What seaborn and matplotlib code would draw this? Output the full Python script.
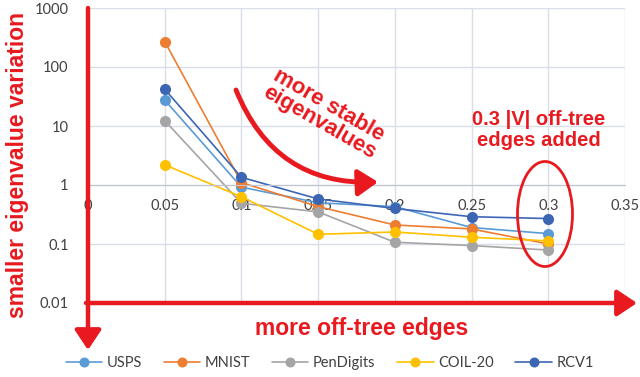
import numpy as np
import pandas as pd
import seaborn as sns
import matplotlib.pyplot as plt
from matplotlib.patches import Ellipse, FancyArrowPatch

# Fraction of |V| off-tree edges added
x_vals = [0.05, 0.1, 0.15, 0.2, 0.25, 0.3]

usps = [27.5, 0.92, 0.50, 0.43, 0.19, 0.15]
mnist = [270, 1.10, 0.43, 0.21, 0.18, 0.10]
pendigits = [12.3, 0.49, 0.35, 0.107, 0.094, 0.079]
coil20 = [2.2, 0.63, 0.146, 0.16, 0.13, 0.113]
rcv1 = [42, 1.35, 0.58, 0.40, 0.29, 0.27]

series = ['USPS', 'MNIST', 'PenDigits', 'COIL-20', 'RCV1']
colors = ['#5B9BD5', '#ED7D31', '#A5A5A5', '#FFC000', '#3C66B4']

y_ticks = [0.01, 0.1, 1, 10, 100, 1000]
y_labels = ['0.01', '0.1', '1', '10', '100', '1000']
x_ticks = [0, 0.05, 0.1, 0.15, 0.2, 0.25, 0.3, 0.35]
x_labels = ['0', '0.05', '0.1', '0.15', '0.2', '0.25', '0.3', '0.35']

df = pd.DataFrame({
    'Edges': x_vals * 5,
    'Variation': usps + mnist + pendigits + coil20 + rcv1,
    'Dataset': [s for s in series for _ in x_vals],
})

RED = '#E8191F'
W, H = 640, 377

sns.set_style('whitegrid')
plt.rcParams['font.family'] = ['Lato', 'DejaVu Sans']

fig = plt.figure(figsize=(6.4, 3.77), dpi=100)
ax = fig.add_axes([88 / W, 1 - 303 / H, (625 - 88) / W, (303 - 8) / H])

sns.lineplot(data=df, x='Edges', y='Variation', hue='Dataset', palette=colors,
             marker='o', markersize=8, markeredgewidth=0, linewidth=1.2,
             dashes=False, ax=ax)

ax.set_yscale('log')
ax.set_ylim(0.01, 1000)
ax.set_xlim(0, 0.35)
ax.set_yticks(y_ticks)
ax.set_yticklabels(y_labels)
ax.set_xticks(x_ticks)
ax.set_xticklabels(x_labels)
ax.minorticks_off()
ax.tick_params(axis='both', length=0, labelsize=10.5, colors='#404040')
ax.tick_params(axis='x', pad=10)
ax.tick_params(axis='y', pad=14)
ax.grid(True, color='#D9DEE8', linewidth=1)
for s in ['top', 'right', 'left']:
    ax.spines[s].set_visible(False)
ax.spines['bottom'].set_position(('data', 1))
ax.spines['bottom'].set_color('#BFC5D0')
ax.set_xlabel('')
ax.set_ylabel('')

sns.move_legend(ax, 'center', bbox_to_anchor=(0.515, 1 - 363 / H),
                bbox_transform=fig.transFigure, ncol=5, frameon=False,
                title=None, fontsize=10.5, handlelength=2.5, handletextpad=0.3,
                columnspacing=1.5, markerscale=0.9)
for t in ax.get_legend().get_texts():
    t.set_color('#404040')


def px(x, y):
    return (x / W, 1 - y / H)


# Red axis arrows
arrow_kw = dict(arrowstyle='-|>,head_length=1.2,head_width=0.8', color=RED,
                lw=3.2, mutation_scale=10, shrinkA=0, shrinkB=0)
fig.patches.append(FancyArrowPatch(px(88, 8), px(88, 350), transform=fig.transFigure,
                                   **arrow_kw))
fig.patches.append(FancyArrowPatch(px(86, 303), px(637, 303), transform=fig.transFigure,
                                   **arrow_kw))

label_kw = dict(color=RED, fontweight='bold', family='Liberation Sans')
fig.text(*px(18, 165), 'smaller eigenvalue variation', rotation=90, ha='center',
         va='center', fontsize=16.5, **label_kw)
fig.text(*px(362, 329), 'more off-tree edges', ha='center', va='center',
         fontsize=16.5, **label_kw)

# Curved arrow and label
fig.patches.append(FancyArrowPatch(px(236, 90), px(378, 182), transform=fig.transFigure,
                                   connectionstyle='arc3,rad=0.35',
                                   arrowstyle='-|>,head_length=1.2,head_width=0.8',
                                   color=RED, lw=3.5, mutation_scale=10,
                                   shrinkA=0, shrinkB=0))
fig.text(*px(324, 114), 'more stable\neigenvalues', rotation=-30, ha='center',
         va='center', fontsize=16, linespacing=0.95, rotation_mode='anchor',
         **label_kw)

fig.text(*px(539, 130), '0.3 |V| off-tree\nedges added', ha='center', va='center',
         fontsize=14.5, linespacing=1.15, **label_kw)
fig.patches.append(Ellipse(px(545, 214), 55 / W, 105 / H, transform=fig.transFigure,
                           fill=False, edgecolor=RED, lw=2))

fig.savefig('out.png', dpi=100)
